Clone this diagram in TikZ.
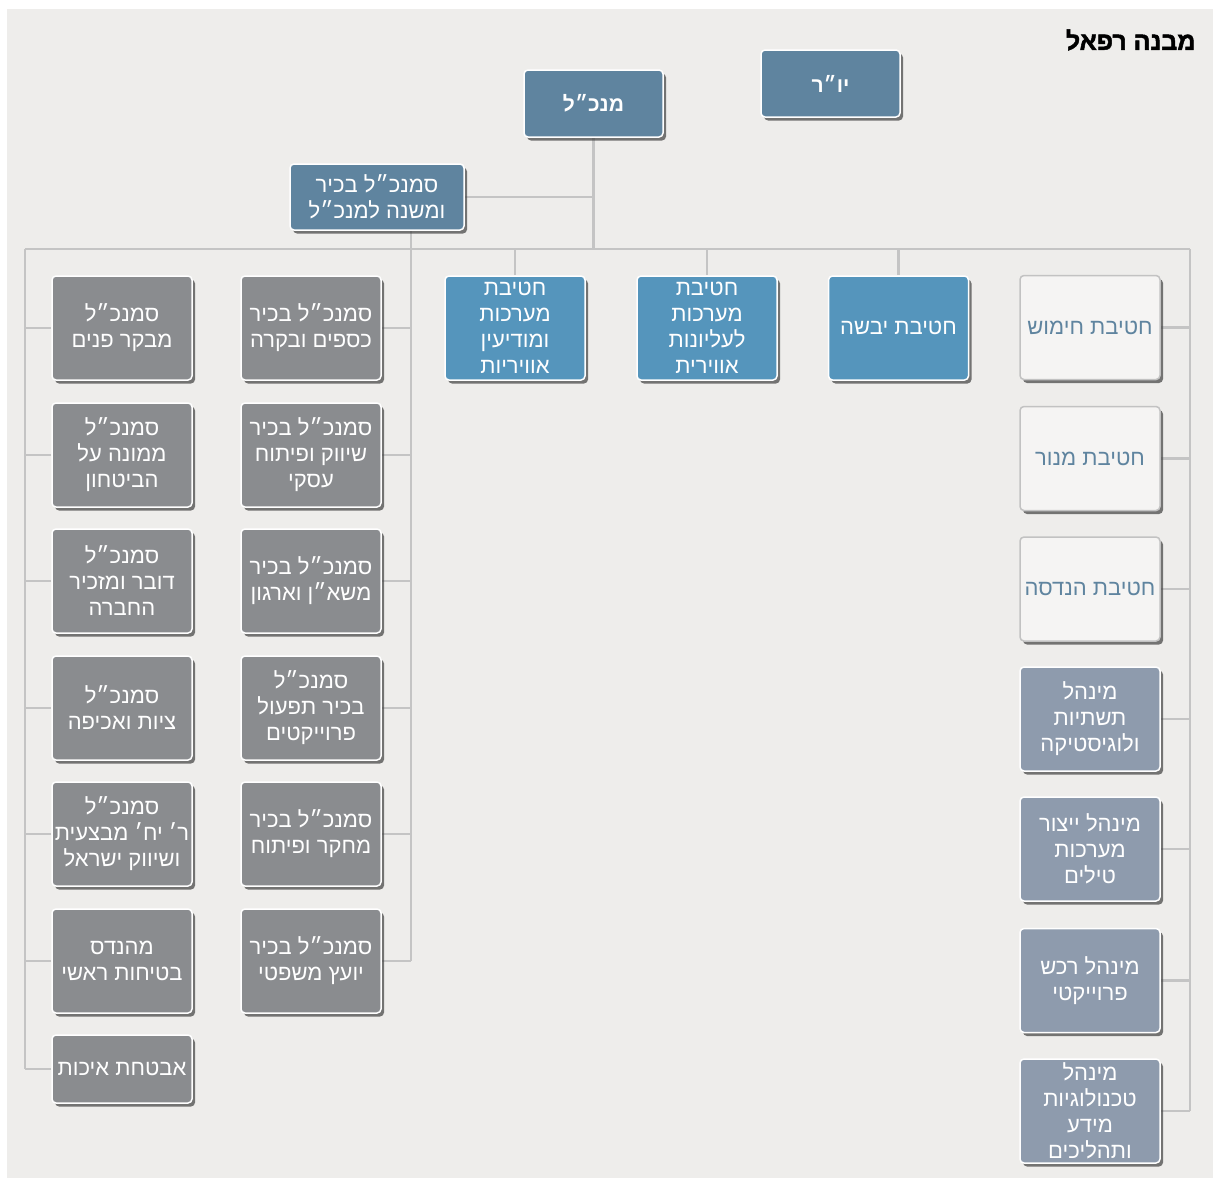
\documentclass[tikz,border=0pt]{standalone}
\usepackage{fontspec}
\newfontfamily\hebfont[Script=Hebrew]{Liberation Sans}
\newfontfamily\hebheavy[Script=Hebrew, BoldFeatures={FakeBold=2}]{Liberation Sans}
\TeXXeTstate=1
\usetikzlibrary{shadows,backgrounds}
\newcommand{\rl}[1]{\beginR #1\endR}
\definecolor{panel}{HTML}{EEEDEB}
\definecolor{conn}{HTML}{C4C4C4}
\definecolor{steel}{HTML}{5F849F}
\definecolor{divblue}{HTML}{5595BC}
\definecolor{graybox}{HTML}{8A8C8F}
\definecolor{lightbox}{HTML}{F5F4F3}
\definecolor{lightedge}{HTML}{C2C2C2}
\definecolor{admin}{HTML}{8E9BAD}
\begin{document}
\begin{tikzpicture}[x=1pt,y=-1pt,
  box/.style={rounded corners=4pt, draw=white, line width=1.5pt,
    minimum width=140pt, minimum height=104pt, inner sep=0pt,
    align=center, text=white,
    font=\hebfont\fontsize{22}{26}\selectfont,
    drop shadow={shadow xshift=3pt, shadow yshift=-3.5pt, fill=black!75, opacity=0.7}},
  topbox/.style={box, fill=steel, minimum width=139pt, minimum height=67pt},
  divbox/.style={box, fill=divblue},
  graynode/.style={box, fill=graybox},
  lightnode/.style={box, fill=lightbox, draw=lightedge, text=steel},
  adminnode/.style={box, fill=admin},
  conn/.style={draw=conn, line width=2.2pt},
  title/.style={font=\hebheavy\bfseries\fontsize{25}{30}\selectfont, text=black, anchor=east}
]
\useasboundingbox (0,0) rectangle (1213,1178);

% title
\node[title] (ttl) at (1199,40) {\rl{מבנה רפאל}};

% top
\node[topbox, font=\hebfont\bfseries\fontsize{21}{25}\selectfont] (chair) at (830.5,83.5) {\rl{יו״ר}};
\node[topbox, font=\hebfont\bfseries\fontsize{21}{25}\selectfont] (ceo) at (593.5,103.5) {\rl{מנכ״ל}};
\node[topbox, minimum width=174pt, minimum height=66pt] (dep) at (377,197) {\rl{סמנכ״ל בכיר}\\\rl{ומשנה למנכ״ל}};

% divisions
\node[divbox] (d1) at (515,328) {\rl{חטיבת}\\\rl{מערכות}\\\rl{ומודיעין}\\\rl{אוויריות}};
\node[divbox] (d2) at (707,328) {\rl{חטיבת}\\\rl{מערכות}\\\rl{לעליונות}\\\rl{אווירית}};
\node[divbox] (d3) at (898.5,328) {\rl{חטיבת יבשה}};

% left block, right column
\node[graynode] (r1) at (311,328) {\rl{סמנכ״ל בכיר}\\\rl{כספים ובקרה}};
\node[graynode] (r2) at (311,455) {\rl{סמנכ״ל בכיר}\\\rl{שיווק ופיתוח}\\\rl{עסקי}};
\node[graynode] (r3) at (311,581) {\rl{סמנכ״ל בכיר}\\\rl{משא״ן וארגון}};
\node[graynode] (r4) at (311,708) {\rl{סמנכ״ל}\\\rl{בכיר תפעול}\\\rl{פרוייקטים}};
\node[graynode] (r5) at (311,834) {\rl{סמנכ״ל בכיר}\\\rl{מחקר ופיתוח}};
\node[graynode] (r6) at (311,961) {\rl{סמנכ״ל בכיר}\\\rl{יועץ משפטי}};

% left block, left column
\node[graynode] (l1) at (122,328) {\rl{סמנכ״ל}\\\rl{מבקר פנים}};
\node[graynode] (l2) at (122,455) {\rl{סמנכ״ל}\\\rl{ממונה על}\\\rl{הביטחון}};
\node[graynode] (l3) at (122,581) {\rl{סמנכ״ל}\\\rl{דובר ומזכיר}\\\rl{החברה}};
\node[graynode] (l4) at (122,708) {\rl{סמנכ״ל}\\\rl{ציות ואכיפה}};
\node[graynode] (l5) at (122,834) {\rl{סמנכ״ל}\\\rl{ר׳ יח׳ מבצעית}\\\rl{ושיווק ישראל}};
\node[graynode] (l6) at (122,961) {\rl{מהנדס}\\\rl{בטיחות ראשי}};
\node[graynode, minimum height=68pt] (l7) at (122,1069) {\rl{אבטחת איכות}};

% right column
\node[lightnode] (c1) at (1090,327.5) {\rl{חטיבת חימוש}};
\node[lightnode] (c2) at (1090,458.5) {\rl{חטיבת מנור}};
\node[lightnode] (c3) at (1090,589) {\rl{חטיבת הנדסה}};
\node[adminnode] (c4) at (1090,719) {\rl{מינהל}\\\rl{תשתיות}\\\rl{ולוגיסטיקה}};
\node[adminnode] (c5) at (1090,849) {\rl{מינהל ייצור}\\\rl{מערכות}\\\rl{טילים}};
\node[adminnode] (c6) at (1090,980.5) {\rl{מינהל רכש}\\\rl{פרוייקטי}};
\node[adminnode] (c7) at (1090,1111) {\rl{מינהל}\\\rl{טכנולוגיות}\\\rl{מידע}\\\rl{ותהליכים}};

% coordinates
\coordinate (busL) at (25,249);
\coordinate (busR) at (1190,249);
\coordinate (leftEnd) at (25,1069);
\coordinate (rightEnd) at (1190,1111);
\coordinate (spineTop) at (411,231);
\coordinate (spineEnd) at (411,961);

\begin{scope}[on background layer]
  \fill[panel] (7,9) rectangle (1213,1178);
  \draw[conn] (busL) -- (busR);
  \draw[conn] (ceo.south) -- (ceo.south |- busL);
  \draw[conn] (dep.east) -- (dep.east -| ceo.south);
  \draw[conn] (spineTop) -- (spineEnd);
  \foreach \n in {d1,d2,d3} \draw[conn] (\n.north) -- (\n.north |- busL);
  \foreach \n in {r1,r2,r3,r4,r5,r6} \draw[conn] (\n.east) -- (\n.east -| spineEnd);
  \draw[conn] (busL) -- (leftEnd);
  \foreach \n in {l1,l2,l3,l4,l5,l6,l7} \draw[conn] (\n.west) -- (\n.west -| busL);
  \draw[conn] (busR) -- (rightEnd);
  \foreach \n in {c1,c2,c3,c4,c5,c6,c7} \draw[conn] (\n.east) -- (\n.east -| busR);
\end{scope}
\end{tikzpicture}
\end{document}
